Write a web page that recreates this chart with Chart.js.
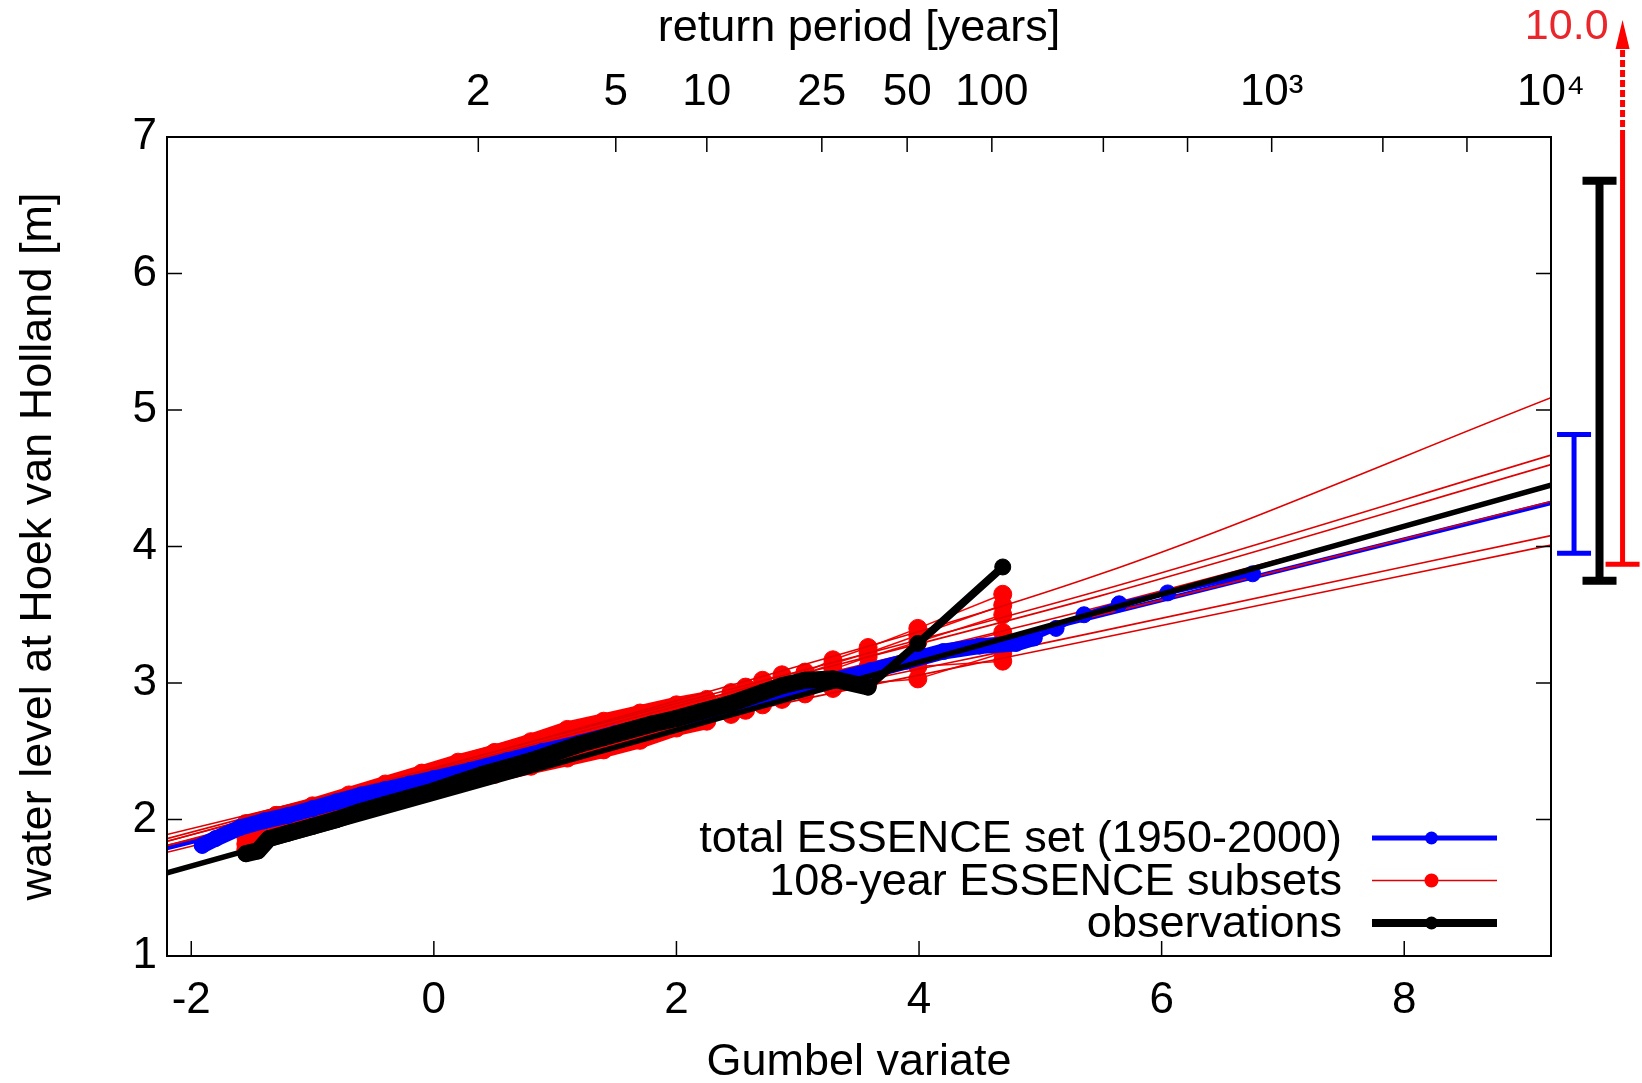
<!DOCTYPE html>
<html>
<head>
<meta charset="utf-8">
<title>Gumbel plot Hoek van Holland</title>
<script src="https://cdn.jsdelivr.net/npm/chart.js@4.4.1/dist/chart.umd.min.js"></script>
<style>
  html, body { margin: 0; padding: 0; background: #fff; }
  #wrap { width: 1642px; height: 1083px; }
</style>
</head>
<body>
<div id="wrap"><canvas id="gumbelChart" width="1642" height="1083" style="width:1642px;height:1083px"></canvas></div>
<script>
const BLUE = "#0000ff";
const RED = "#ff0000";
const BLACK = "#000000";
const FONT = "'Liberation Sans', Arial, Helvetica, sans-serif";

// axes
const gumbelTicks = [-2, 0, 2, 4, 6, 8];
const levelTicks = [1, 2, 3, 4, 5, 6, 7];
const returnPeriods = [2, 5, 10, 25, 50, 100, 250, 500, 1000, 2500, 5000, 10000];
const returnLabels = ["2", "5", "10", "25", "50", "100", "", "", "10³", "", "", "10⁴"];

const seriesLabels = ["total ESSENCE set (1950-2000)", "108-year ESSENCE subsets", "observations"];

// observations (108 years)
const obsX = [-1.55, -1.45, -1.36, -1.20, -1.00, -0.80, -0.60, -0.40, -0.20, 0.00, 0.20, 0.40, 0.60, 0.80, 1.00,
  1.20, 1.40, 1.60, 1.80, 2.00, 2.20, 2.45, 2.71, 2.87, 3.06, 3.29, 3.58, 3.99, 4.69];
const obsY = [1.75, 1.77, 1.86, 1.90, 1.95, 2.00, 2.06, 2.11, 2.16, 2.21, 2.27, 2.33, 2.38, 2.43, 2.49,
  2.55, 2.60, 2.65, 2.70, 2.74, 2.79, 2.85, 2.93, 2.98, 3.02, 3.03, 2.97, 3.29, 3.85];

// total ESSENCE set
const blueX = [-1.91, -1.80, -1.60, -1.40, -1.20, -1.00, -0.80, -0.60, -0.40, -0.20, 0.00, 0.30, 0.60, 0.90, 1.20,
  1.50, 1.80, 2.10, 2.40, 2.70, 3.00, 3.30, 3.60, 3.90, 4.20, 4.50, 4.80, 4.95, 5.13, 5.36, 5.65, 6.05, 6.75];
const blueY = [1.81, 1.86, 1.94, 1.99, 2.03, 2.08, 2.13, 2.18, 2.22, 2.26, 2.30, 2.36, 2.43, 2.50, 2.56,
  2.63, 2.70, 2.76, 2.82, 2.89, 2.96, 3.02, 3.09, 3.16, 3.23, 3.27, 3.29, 3.33, 3.40, 3.50, 3.58, 3.66, 3.80];

// 108-year subsets, shared plotting positions
const subsetX = [-1.55, -1.30, -1.00, -0.70, -0.40, -0.10, 0.20, 0.50, 0.80, 1.10, 1.40, 1.70, 2.00, 2.25,
  2.45, 2.57, 2.71, 2.87, 3.06, 3.29, 3.58, 3.99, 4.69];
const subset1 = [1.97, 2.03, 2.09, 2.17, 2.25, 2.33, 2.41, 2.49, 2.57, 2.66, 2.72, 2.78, 2.84, 2.88, 2.93, 2.97, 3.02, 3.06, 3.08, 3.17, 3.26, 3.40, 3.65];
const subset2 = [1.96, 2.03, 2.10, 2.18, 2.26, 2.34, 2.42, 2.49, 2.56, 2.64, 2.70, 2.76, 2.82, 2.87, 2.92, 2.95, 2.99, 3.02, 3.07, 3.14, 3.22, 3.35, 3.57];
const subset3 = [1.93, 2.00, 2.08, 2.15, 2.23, 2.31, 2.38, 2.45, 2.52, 2.59, 2.65, 2.71, 2.78, 2.83, 2.88, 2.91, 2.95, 2.99, 3.04, 3.10, 3.19, 3.30, 3.50];
const subset4 = [1.90, 1.98, 2.06, 2.14, 2.21, 2.28, 2.35, 2.41, 2.48, 2.55, 2.61, 2.68, 2.75, 2.81, 2.86, 2.89, 2.92, 2.96, 3.00, 3.06, 3.12, 3.22, 3.37];
const subset5 = [1.87, 1.96, 2.04, 2.12, 2.19, 2.26, 2.33, 2.39, 2.45, 2.52, 2.58, 2.65, 2.73, 2.78, 2.83, 2.86, 2.90, 2.94, 2.98, 3.04, 3.10, 3.18, 3.27];
const subset6 = [1.82, 1.93, 2.01, 2.09, 2.16, 2.23, 2.29, 2.36, 2.41, 2.47, 2.53, 2.60, 2.69, 2.74, 2.80, 2.83, 2.86, 2.90, 2.95, 3.00, 3.06, 3.12, 3.16];
const subset7 = [1.78, 1.90, 1.99, 2.07, 2.14, 2.21, 2.27, 2.33, 2.39, 2.45, 2.51, 2.58, 2.67, 2.72, 2.77, 2.80, 2.84, 2.88, 2.92, 2.96, 3.00, 3.03, 3.22];
const subsets = [subset1, subset2, subset3, subset4, subset5, subset6, subset7];

// fitted return level lines
const fitX = [-2.2, 9.21];
const obsFit = [1.61, 4.45];
const blueFit = [1.79, 4.32];
const subsetFitX = [-2.2, 2.0, 5.5, 9.21];
const subsetFit1 = [1.84, 2.87, 3.80, 5.09];
const subsetFit2 = [1.86, 2.85, 3.68, 4.67];
const subsetFit3 = [1.84, 2.83, 3.64, 4.60];
const subsetFit4 = [1.81, 2.80, 3.56, 4.44];
const subsetFit5 = [1.89, 2.79, 3.50, 4.33];
const subsetFit6 = [1.81, 2.72, 3.38, 4.08];
const subsetFit7 = [1.76, 2.68, 3.33, 4.01];
const subsetFits = [subsetFit1, subsetFit2, subsetFit3, subsetFit4, subsetFit5, subsetFit6, subsetFit7];

// 10^4-year level ranges (blue, black, red)
const spreadX = [9.40, 9.61, 9.80];
const spreadLow = [3.95, 3.75, 3.87];
const spreadHigh = [4.82, 6.68, 10.0];
const spreadColors = [BLUE, BLACK, RED];
const spreadWidths = [5, 8, 5];

function gumbelOf(T) {
  return -Math.log(-Math.log(1 - 1 / T));
}

function pts(xs, ys) {
  return xs.map((x, i) => ({ x: x, y: ys[i] }));
}

// thick band where the points are packed, thin line in the tail
function bandWidth(limit, thick, thin) {
  return ctx => (ctx.p1.parsed.x <= limit ? thick : thin);
}

const datasets = [];

datasets.push({
  label: "obs fit", data: pts(fitX, obsFit),
  borderColor: BLACK, borderWidth: 5.5, pointRadius: 0
});
datasets.push({
  label: seriesLabels[2], data: pts(obsX, obsY),
  borderColor: BLACK, backgroundColor: BLACK, pointBackgroundColor: BLACK, pointBorderColor: BLACK,
  pointRadius: 8, pointBorderWidth: 1, borderJoinStyle: "round", borderCapStyle: "round",
  segment: { borderWidth: bandWidth(3.6, 17, 8) }
});
datasets.push({
  label: seriesLabels[0], data: pts(blueX, blueY),
  borderColor: BLUE, backgroundColor: BLUE, pointBackgroundColor: BLUE, pointBorderColor: BLUE,
  pointRadius: 8, pointBorderWidth: 1, borderJoinStyle: "round", borderCapStyle: "round",
  segment: { borderWidth: bandWidth(5.0, 16, 5) }
});
subsetFits.forEach((f, i) => {
  datasets.push({
    label: "subset fit " + (i + 1), data: pts(subsetFitX, f),
    borderColor: "#e00000", borderWidth: 1.6, pointRadius: 0,
    cubicInterpolationMode: "monotone"
  });
});
datasets.push({
  label: "total fit", data: pts(fitX, blueFit),
  borderColor: BLUE, borderWidth: 4.5, pointRadius: 0
});
subsets.forEach((s, i) => {
  datasets.push({
    label: i === 0 ? seriesLabels[1] : "subset " + (i + 1), data: pts(subsetX, s),
    borderColor: RED, backgroundColor: RED, pointBackgroundColor: RED, pointBorderColor: RED,
    pointRadius: 9, pointBorderWidth: 1, borderJoinStyle: "round", borderCapStyle: "round",
    segment: { borderWidth: bandWidth(2.3, 16, 1.5) }
  });
});

const framePlugin = {
  id: "frameTicks",
  afterDatasetsDraw(chart) {
    const { ctx, chartArea: a, scales } = chart;
    const len = 15;
    ctx.save();
    ctx.strokeStyle = BLACK;
    ctx.lineWidth = 2;
    ctx.strokeRect(a.left, a.top, a.right - a.left, a.bottom - a.top);
    ctx.lineWidth = 1.5;
    ctx.beginPath();
    scales.x.ticks.forEach(t => {
      const p = scales.x.getPixelForValue(t.value);
      ctx.moveTo(p, a.bottom);
      ctx.lineTo(p, a.bottom - len);
    });
    scales.xTop.ticks.forEach(t => {
      const p = scales.xTop.getPixelForValue(t.value);
      ctx.moveTo(p, a.top);
      ctx.lineTo(p, a.top + len);
    });
    scales.y.ticks.forEach(t => {
      const p = scales.y.getPixelForValue(t.value);
      ctx.moveTo(a.left, p);
      ctx.lineTo(a.left + len, p);
      ctx.moveTo(a.right, p);
      ctx.lineTo(a.right - len, p);
    });
    ctx.stroke();
    ctx.restore();
  }
};

const spreadPlugin = {
  id: "spreadBars",
  afterDraw(chart) {
    const { ctx, scales: { x, y } } = chart;
    const cap = 17;
    ctx.save();
    spreadX.forEach((xv, i) => {
      const px = x.getPixelForValue(xv);
      const low = y.getPixelForValue(spreadLow[i]);
      const offScale = spreadHigh[i] > y.max;
      const high = y.getPixelForValue(Math.min(spreadHigh[i], y.max));
      ctx.strokeStyle = spreadColors[i];
      ctx.fillStyle = spreadColors[i];
      ctx.lineWidth = spreadWidths[i];
      ctx.lineCap = "butt";
      ctx.beginPath();
      ctx.moveTo(px, low);
      ctx.lineTo(px, high);
      ctx.moveTo(px - cap, low);
      ctx.lineTo(px + cap, low);
      if (!offScale) {
        ctx.moveTo(px - cap, high);
        ctx.lineTo(px + cap, high);
      }
      ctx.stroke();
      if (offScale) {
        const dashEnd = high - 90;
        const tip = high - 117;
        ctx.setLineDash([7, 3]);
        ctx.beginPath();
        ctx.moveTo(px, high);
        ctx.lineTo(px, dashEnd);
        ctx.stroke();
        ctx.setLineDash([]);
        ctx.beginPath();
        ctx.moveTo(px, tip);
        ctx.lineTo(px - 7, dashEnd + 2);
        ctx.lineTo(px + 7, dashEnd + 2);
        ctx.closePath();
        ctx.fill();
        ctx.fillStyle = "#e8262b";
        ctx.font = "43px " + FONT;
        ctx.textAlign = "right";
        ctx.textBaseline = "middle";
        ctx.fillText(spreadHigh[i].toFixed(1), px - 14, tip + 7);
      }
    });
    ctx.restore();
  }
};

const legendPlugin = {
  id: "sampleLegend",
  afterDraw(chart) {
    const { ctx, chartArea: a } = chart;
    const styles = [
      { color: BLUE, width: 5, radius: 6.5 },
      { color: "#e00000", width: 1.5, radius: 7 },
      { color: BLACK, width: 8, radius: 6.5 }
    ];
    const lineEnd = a.right - 54;
    const lineStart = lineEnd - 125;
    const mid = (lineStart + lineEnd) / 2 - 3;
    ctx.save();
    ctx.font = "45px " + FONT;
    ctx.textAlign = "right";
    ctx.textBaseline = "middle";
    seriesLabels.forEach((label, i) => {
      const yy = a.bottom - 33 - (seriesLabels.length - 1 - i) * 42.5;
      ctx.fillStyle = BLACK;
      ctx.fillText(label, lineStart - 30, yy + 2);
      ctx.strokeStyle = styles[i].color;
      ctx.lineWidth = styles[i].width;
      ctx.beginPath();
      ctx.moveTo(lineStart, yy);
      ctx.lineTo(lineEnd, yy);
      ctx.stroke();
      ctx.fillStyle = i === 1 ? RED : styles[i].color;
      ctx.beginPath();
      ctx.arc(mid, yy, styles[i].radius, 0, Math.PI * 2);
      ctx.fill();
    });
    ctx.restore();
  }
};

const tickFont = { family: FONT, size: 44 };
const titleFont = { family: FONT, size: 45 };

new Chart(document.getElementById("gumbelChart"), {
  type: "line",
  data: { datasets: datasets },
  options: {
    responsive: false,
    animation: false,
    events: [],
    layout: { padding: { left: 0, right: 91, top: 0, bottom: 0 } },
    plugins: {
      legend: { display: false },
      tooltip: { enabled: false }
    },
    scales: {
      x: {
        type: "linear", position: "bottom", min: -2.2, max: 9.21,
        afterBuildTicks: s => { s.ticks = gumbelTicks.map(v => ({ value: v })); },
        afterFit: s => { s.height = 127; },
        grid: { display: false, drawTicks: false },
        border: { display: false },
        ticks: { font: tickFont, color: BLACK, padding: 18, maxRotation: 0, autoSkip: false },
        title: {
          display: true, text: "Gumbel variate", color: BLACK,
          font: { family: FONT, size: 45, lineHeight: 0.9 }, padding: 0
        }
      },
      xTop: {
        type: "linear", position: "top", min: -2.2, max: 9.21,
        afterBuildTicks: s => { s.ticks = returnPeriods.map(T => ({ value: gumbelOf(T) })); },
        afterFit: s => { s.height = 137; },
        grid: { display: false, drawTicks: false },
        border: { display: false },
        ticks: {
          font: tickFont, color: BLACK, padding: 18, maxRotation: 0, autoSkip: false,
          callback: (v, i) => returnLabels[i]
        },
        title: {
          display: true, text: "return period [years]", color: BLACK,
          font: titleFont, padding: { top: 2, bottom: 0 }
        }
      },
      y: {
        type: "linear", position: "left", min: 1, max: 7,
        afterBuildTicks: s => { s.ticks = levelTicks.map(v => ({ value: v })); },
        afterFit: s => { s.width = 167; },
        grid: { display: false, drawTicks: false },
        border: { display: false },
        ticks: { font: tickFont, color: BLACK, padding: 10 },
        title: {
          display: true, text: "water level at Hoek van Holland [m]", color: BLACK,
          font: titleFont, padding: { top: 12, bottom: 0 }
        }
      }
    }
  },
  plugins: [framePlugin, spreadPlugin, legendPlugin]
});
</script>
</body>
</html>
